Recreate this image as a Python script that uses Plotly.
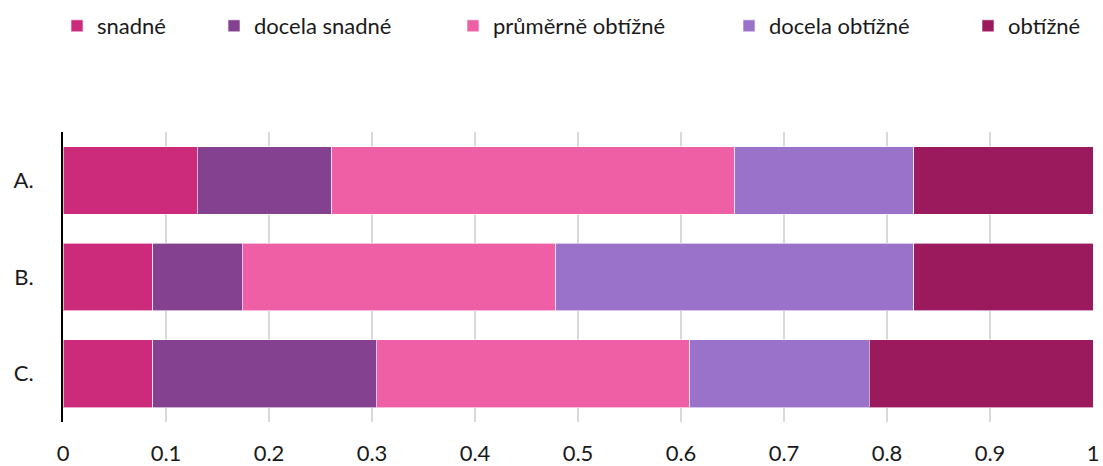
import plotly.graph_objects as go

categories = ["A.", "B.", "C."]
series_names = ["snadné", "docela snadné", "průměrně obtížné", "docela obtížné", "obtížné"]
snadne = [3/23, 2/23, 2/23]
docela_snadne = [3/23, 2/23, 5/23]
prumerne = [9/23, 7/23, 7/23]
docela_obtizne = [4/23, 8/23, 4/23]
obtizne = [4/23, 4/23, 5/23]
colors = ["#CC2A7A", "#84418F", "#EE5FA5", "#9B72C9", "#9A1A5D"]
x_ticks = [0, 0.1, 0.2, 0.3, 0.4, 0.5, 0.6, 0.7, 0.8, 0.9, 1]
x_ticktext = ["0", "0.1", "0.2", "0.3", "0.4", "0.5", "0.6", "0.7", "0.8", "0.9", "1"]
legend_x_px = [70, 227, 466, 742, 981]

font = "Lato"
W, H = 1103, 466
fig = go.Figure()
legend_ids = ["legend", "legend2", "legend3", "legend4", "legend5"]
for name, vals, col, lid in zip(series_names,
                                [snadne, docela_snadne, prumerne, docela_obtizne, obtizne],
                                colors, legend_ids):
    fig.add_trace(go.Bar(
        y=categories, x=vals, name=name, orientation="h", legend=lid, showlegend=True,
        marker=dict(color=col, line=dict(color="rgba(255,255,255,0.6)", width=1)),
    ))

layout_legends = {}
for lid, px in zip(legend_ids, legend_x_px):
    layout_legends[lid] = dict(
        orientation="h", x=(px - 13) / W, xanchor="left", xref="container",
        y=1 - 5 / H, yanchor="top", yref="container",
        font=dict(family=font, size=22, color="#1a1a1a"),
        bgcolor="rgba(0,0,0,0)", itemwidth=30, visible=True,
    )

fig.update_layout(
    barmode="stack",
    bargap=0.3,
    showlegend=True,
    width=W, height=H,
    margin=dict(l=63, r=10, t=132, b=44, autoexpand=False),
    plot_bgcolor="white", paper_bgcolor="white",
    font=dict(family=font, size=22, color="#1a1a1a"),
    xaxis=dict(range=[0, 1], tickvals=x_ticks, ticktext=x_ticktext, automargin=False,
               showgrid=True, gridcolor="#D9D9D9", gridwidth=1.5,
               zeroline=False, showline=False, ticks="", ticklabelstandoff=16),
    yaxis=dict(categoryorder="array", categoryarray=categories, autorange="reversed",
               automargin=False,
               showline=True, linecolor="black", linewidth=2, ticks="",
               ticklabelstandoff=23, showgrid=False),
    **layout_legends,
)
fig.write_html("out.html", config={"displayModeBar": False},
               post_script="document.body.style.margin='0';")
